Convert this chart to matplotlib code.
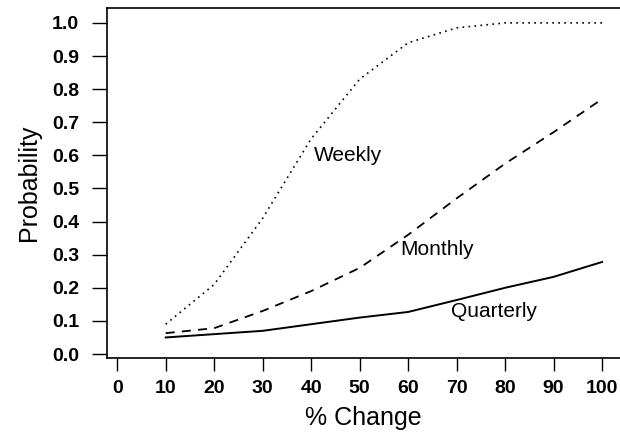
import matplotlib
matplotlib.use("Agg")
import matplotlib.pyplot as plt

plt.rcParams['font.family'] = ['Liberation Sans', 'DejaVu Sans']

pct_change = [10, 20, 30, 40, 50, 60, 70, 80, 90, 100]
weekly = [0.09, 0.21, 0.41, 0.65, 0.83, 0.94, 0.985, 1.0, 1.0, 1.0]
monthly = [0.063, 0.078, 0.13, 0.19, 0.26, 0.36, 0.47, 0.575, 0.67, 0.77]
quarterly = [0.05, 0.06, 0.07, 0.09, 0.11, 0.127, 0.163, 0.20, 0.233, 0.278]

fig = plt.figure(figsize=(6.2, 4.4), dpi=100)
ax = fig.add_axes([0.1726, 0.1864, 0.8274, 0.7954])

ax.plot(pct_change, weekly, color='black', lw=1.2, linestyle=(0, (1, 2.6)))
ax.plot(pct_change, monthly, color='black', lw=1.3, linestyle=(0, (5, 4)))
ax.plot(pct_change, quarterly, color='black', lw=1.4, linestyle='-')

# curve labels
ax.text(40.6, 0.60, 'Weekly', fontsize=15, ha='left', va='center')
ax.text(58.4, 0.317, 'Monthly', fontsize=15, ha='left', va='center')
ax.text(68.8, 0.127, 'Quarterly', fontsize=15, ha='left', va='center')

ax.set_xlim(-2.1, 103.7)
ax.set_ylim(-0.012, 1.045)
ax.set_xticks(range(0, 101, 10))
ax.set_yticks([i / 10 for i in range(11)])
ax.set_yticklabels([f'{i / 10:.1f}' for i in range(11)])

ax.spines['right'].set_visible(False)
for s in ['left', 'bottom', 'top']:
    ax.spines[s].set_linewidth(1.2)

ax.tick_params(axis='y', length=11, width=1.0, pad=9, labelsize=14)
ax.tick_params(axis='x', length=9, width=1.0, pad=7, labelsize=14)
for lab in ax.get_xticklabels() + ax.get_yticklabels():
    lab.set_fontweight('bold')

ax.set_xlabel('% Change', fontsize=18, labelpad=6)
ax.set_ylabel('Probability', fontsize=18, labelpad=8)

fig.savefig('out.png', dpi=100, facecolor='white')
